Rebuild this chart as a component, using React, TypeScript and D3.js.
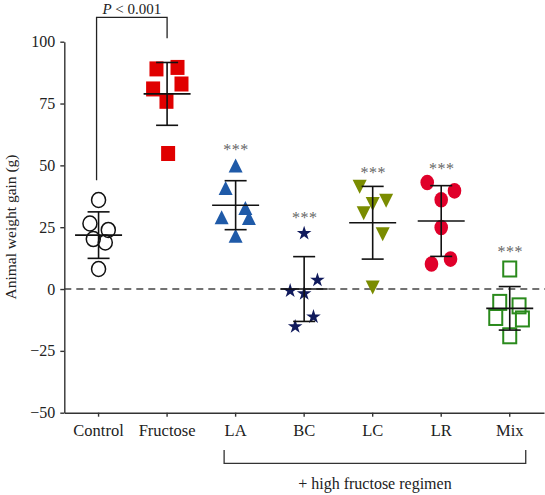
import React, { useEffect, useRef } from "react";
import * as d3 from "d3";

// ---------- data ----------
const categories = ["Control", "Fructose", "LA", "BC", "LC", "LR", "Mix"];

const controlValues = [36.0, 26.5, 23.9, 20.2, 18.8, 8.1];
const fructoseValues = [89.0, 89.6, 82.9, 80.9, 75.9, 54.8];
const laValues = [49.9, 40.8, 32.8, 28.7, 29.0, 21.5];
const bcValues = [22.9, 4.0, -0.3, -1.4, -10.8, -14.8];
const lcValues = [41.4, 35.7, 34.4, 30.6, 22.2, 0.6];
const lrValues = [43.1, 39.7, 36.1, 24.9, 12.1, 10.1];
const mixValues = [8.1, -5.4, -6.8, -11.5, -12.1, -18.9];

// horizontal scatter of each point, in fractions of the category step
const controlJitter = [0, -0.126, 0.142, -0.077, 0.098, 0];
const fructoseJitter = [-0.155, 0.152, 0.21, -0.204, -0.009, 0.015];
const laJitter = [0, -0.146, 0.142, 0.194, -0.204, 0];
const bcJitter = [0, 0.194, -0.204, 0, 0.136, -0.131];
const lcJitter = [-0.19, 0.196, 0, -0.131, 0.146, 0];
const lrJitter = [-0.204, 0.194, 0, 0, 0.136, -0.142];
const mixJitter = [0, -0.146, 0.136, -0.204, 0.185, 0];

const means = [21.8, 78.9, 33.9, 0.0, 26.8, 27.5, -7.8];
const sds = [9.4, 12.7, 9.9, 13.1, 14.7, 14.3, 8.8];

const starLevels = [null, null, 57.7, 30.3, 48.5, 50.1, 16.2];

const yTicks = [100, 75, 50, 25, 0, -25, -50];
const pLabel = "P < 0.001";
const bracketLabel = "+ high fructose regimen";
const yTitle = "Animal weight gain (g)";

const groupValues = [controlValues, fructoseValues, laValues, bcValues, lcValues, lrValues, mixValues];
const groupJitter = [controlJitter, fructoseJitter, laJitter, bcJitter, lcJitter, lrJitter, mixJitter];

// ---------- styles ----------
const W = 545;
const H = 495;
const FONT = "'Liberation Serif', 'Times New Roman', serif";
const markerStyle = [
  { shape: "circle", fill: "none", stroke: "#111" },
  { shape: "square", fill: "#e00000", stroke: "none" },
  { shape: "triUp", fill: "#1f5aa8", stroke: "none" },
  { shape: "star", fill: "#101a5c", stroke: "none" },
  { shape: "triDown", fill: "#7a8c00", stroke: "none" },
  { shape: "ellipse", fill: "#e0002a", stroke: "none" },
  { shape: "openRect", fill: "none", stroke: "#2a8a1c" },
];

export default function App() {
  const ref = useRef<SVGSVGElement | null>(null);

  useEffect(() => {
    const svg = d3.select(ref.current);
    svg.selectAll("*").remove();

    const x = d3.scaleBand<string>().domain(categories).range([64.3, 544]).padding(0);
    const y = d3.scaleLinear().domain([-50, 100]).range([412.7, 41.7]);
    const step = x.step();
    const cx = (c: string) => (x(c) as number) + x.bandwidth() / 2;

    // zero dashed line
    svg.append("line")
      .attr("x1", 64.3).attr("x2", W)
      .attr("y1", y(0)).attr("y2", y(0))
      .attr("stroke", "#444").attr("stroke-width", 1.4)
      .attr("stroke-dasharray", "7,5");

    // y axis
    const yAxis = svg.append("g")
      .attr("transform", "translate(64.3,0)")
      .call(d3.axisLeft(y).tickValues(yTicks).tickSize(4).tickSizeOuter(0).tickPadding(5));
    yAxis.select(".domain").attr("stroke", "#333").attr("stroke-width", 1.4);
    yAxis.selectAll(".tick line").attr("stroke", "#333").attr("stroke-width", 1.4);
    yAxis.selectAll(".tick text").attr("font-family", FONT).attr("font-size", 16).attr("fill", "#222");

    // x axis
    const xAxis = svg.append("g")
      .attr("transform", `translate(0,${y(-50)})`)
      .call(d3.axisBottom(x).tickSize(4).tickSizeOuter(0).tickPadding(8));
    xAxis.select(".domain").attr("stroke", "#333").attr("stroke-width", 1.4);
    xAxis.selectAll(".tick line").attr("stroke", "#333").attr("stroke-width", 1.4);
    xAxis.selectAll(".tick text").attr("font-family", FONT).attr("font-size", 16.5).attr("fill", "#222");

    // y title
    svg.append("text")
      .attr("transform", `translate(16,227) rotate(-90)`)
      .attr("text-anchor", "middle")
      .attr("font-family", FONT).attr("font-size", 15.5).attr("fill", "#222")
      .text(yTitle);

    // markers
    const mg = svg.append("g");
    categories.forEach((c, gi) => {
      const st = markerStyle[gi];
      groupValues[gi].forEach((v, i) => {
        const px = cx(c) + groupJitter[gi][i] * step;
        const py = y(v);
        if (st.shape === "circle") {
          mg.append("ellipse").attr("cx", px).attr("cy", py).attr("rx", 7).attr("ry", 7.5)
            .attr("fill", "none").attr("stroke", st.stroke).attr("stroke-width", 1.5);
        } else if (st.shape === "square") {
          mg.append("rect").attr("x", px - 7).attr("y", py - 7.5).attr("width", 14).attr("height", 15)
            .attr("fill", st.fill);
        } else if (st.shape === "triUp") {
          mg.append("path").attr("d", `M${px - 7},${py + 7}L${px + 7},${py + 7}L${px},${py - 7}Z`)
            .attr("fill", st.fill);
        } else if (st.shape === "triDown") {
          mg.append("path").attr("d", `M${px - 7},${py - 7}L${px + 7},${py - 7}L${px},${py + 7}Z`)
            .attr("fill", st.fill);
        } else if (st.shape === "star") {
          mg.append("path").attr("d", d3.symbol().type(d3.symbolStar).size(66)() as string)
            .attr("transform", `translate(${px},${py + 1})`).attr("fill", st.fill);
        } else if (st.shape === "ellipse") {
          mg.append("ellipse").attr("cx", px).attr("cy", py).attr("rx", 6.8).attr("ry", 7.8)
            .attr("fill", st.fill);
        } else if (st.shape === "openRect") {
          mg.append("rect").attr("x", px - 6.5).attr("y", py - 7.5).attr("width", 13).attr("height", 15)
            .attr("fill", "none").attr("stroke", st.stroke).attr("stroke-width", 2);
        }
      });
    });

    // mean +/- SD bars
    const bg = svg.append("g").attr("stroke", "#111").attr("stroke-width", 1.6);
    categories.forEach((c, gi) => {
      const px = cx(c);
      const m = means[gi];
      const s = sds[gi];
      bg.append("line").attr("x1", px).attr("x2", px).attr("y1", y(m + s)).attr("y2", y(m - s));
      bg.append("line").attr("x1", px - 23.5).attr("x2", px + 23.5).attr("y1", y(m)).attr("y2", y(m));
      bg.append("line").attr("x1", px - 11).attr("x2", px + 11).attr("y1", y(m + s)).attr("y2", y(m + s));
      bg.append("line").attr("x1", px - 11).attr("x2", px + 11).attr("y1", y(m - s)).attr("y2", y(m - s));
    });

    // significance stars
    categories.forEach((c, gi) => {
      const lv = starLevels[gi];
      if (lv == null) return;
      svg.append("text")
        .attr("x", cx(c) + 0.5).attr("y", y(lv) + 8.5)
        .attr("text-anchor", "middle")
        .attr("font-family", FONT).attr("font-size", 16).attr("letter-spacing", 0.5)
        .attr("fill", "#666")
        .text("***");
    });

    // P bracket
    const xc = cx(categories[0]) - 2;
    const xf = cx(categories[1]);
    svg.append("path")
      .attr("d", `M${xc},${y(44)}V17.3H${xf}V38.3`)
      .attr("fill", "none").attr("stroke", "#222").attr("stroke-width", 1.3);
    const pt = svg.append("text")
      .attr("x", (xc + xf) / 2).attr("y", 13.5)
      .attr("text-anchor", "middle")
      .attr("font-family", FONT).attr("font-size", 15).attr("fill", "#222");
    pt.append("tspan").attr("font-style", "italic").text(pLabel.slice(0, 1));
    pt.append("tspan").text(pLabel.slice(1));

    // bottom bracket
    const bl = cx(categories[2]) - 11.5;
    const br = cx(categories[6]) + 16;
    svg.append("path")
      .attr("d", `M${bl},450V463.3H${br}V450`)
      .attr("fill", "none").attr("stroke", "#333").attr("stroke-width", 1.3);
    svg.append("text")
      .attr("x", (bl + br) / 2).attr("y", 489)
      .attr("text-anchor", "middle")
      .attr("font-family", FONT).attr("font-size", 16).attr("fill", "#222")
      .text(bracketLabel);
  }, []);

  return (
    <svg
      ref={ref}
      width={W}
      height={H}
      style={{ position: "absolute", left: 0, top: 0, background: "#fff" }}
    />
  );
}
